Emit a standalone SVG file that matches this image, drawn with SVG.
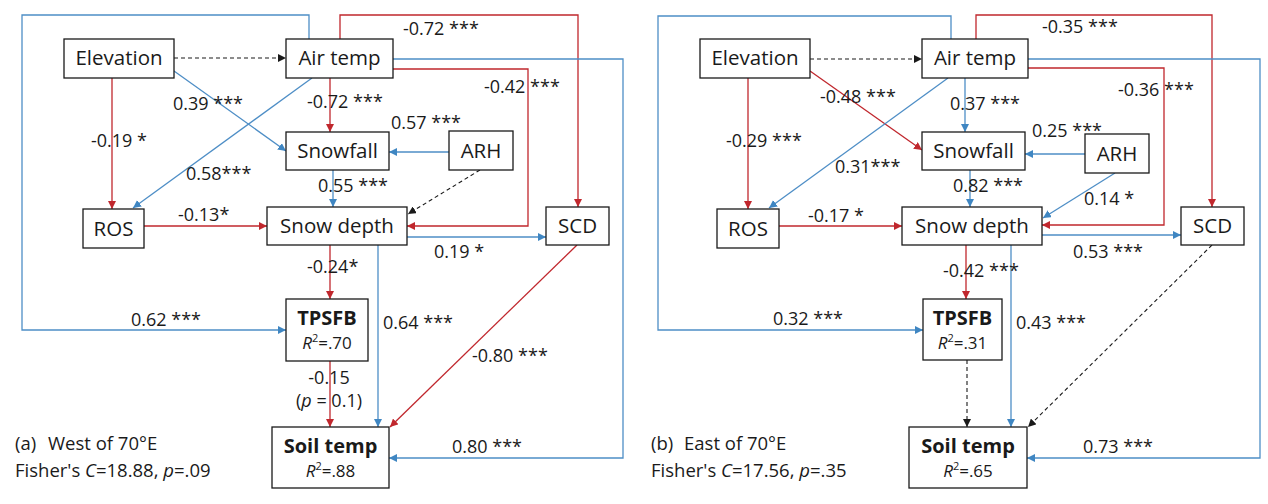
<svg xmlns="http://www.w3.org/2000/svg" width="1268" height="504" viewBox="0 0 1268 504">
<style>
text{font-family:"Open Sans","Liberation Sans",sans-serif;fill:#1a1a1a}
.box{fill:#fff;stroke:#1a1a1a;stroke-width:1.3}
.nm{font-size:20.5px;text-anchor:middle}
.bd{font-size:20px;font-weight:bold;text-anchor:middle}
.r2{font-size:17px;text-anchor:middle}
.lb{font-size:18px}
.lc{font-size:18px;text-anchor:middle}
.cap{font-size:18.5px}
.red{fill:none;stroke:#C0272D;stroke-width:1.3;marker-end:url(#ar)}
.blue{fill:none;stroke:#4E8EC6;stroke-width:1.3;marker-end:url(#ab)}
.dash{fill:none;stroke:#1a1a1a;stroke-width:1.1;stroke-dasharray:4 3;marker-end:url(#ak)}
</style>
<defs>
<marker id="ar" viewBox="0 0 10 10" refX="10" refY="5" markerWidth="8" markerHeight="8" markerUnits="userSpaceOnUse" orient="auto"><path d="M0,0 L10,5 L0,10 z" fill="#C0272D"/></marker>
<marker id="ab" viewBox="0 0 10 10" refX="10" refY="5" markerWidth="8" markerHeight="8" markerUnits="userSpaceOnUse" orient="auto"><path d="M0,0 L10,5 L0,10 z" fill="#3F86C2"/></marker>
<marker id="ak" viewBox="0 0 10 10" refX="10" refY="5" markerWidth="8" markerHeight="8" markerUnits="userSpaceOnUse" orient="auto"><path d="M0,0 L10,5 L0,10 z" fill="#1a1a1a"/></marker>
</defs>
<rect width="1268" height="504" fill="#fff"/>

<g id="connectors">
<path class="blue" d="M309,39 V15 H22 V330 H286"/>
<path class="dash" d="M174,58 H286"/>
<path class="red" d="M112,78 V209"/>
<path class="blue" d="M174,71 L286,151"/>
<path class="blue" d="M312,78 L133,208"/>
<path class="red" d="M330,78 V132"/>
<path class="red" d="M340,39 V15 H578 V207"/>
<path class="red" d="M393,69 H528 V226 H407"/>
<path class="blue" d="M393,59 H623 V458 H389"/>
<path class="blue" d="M449,152 H389"/>
<path class="dash" d="M480,170 L408,214"/>
<path class="blue" d="M333,170 V207"/>
<path class="red" d="M144,226 H267"/>
<path class="blue" d="M407,237 H546"/>
<path class="red" d="M330,245 V299"/>
<path class="blue" d="M378,245 V427"/>
<path class="red" d="M577,245 L390,427"/>
<path class="red" d="M330,361 V427"/>

<path class="blue" d="M951,39 V16 H658 V330 H923"/>
<path class="dash" d="M810,59 H922"/>
<path class="red" d="M748,78 V209"/>
<path class="red" d="M810,71 L922,150"/>
<path class="blue" d="M948,78 L769,208"/>
<path class="blue" d="M965,78 V132"/>
<path class="red" d="M976,39 V15 H1212 V207"/>
<path class="red" d="M1028,68 H1164 V225 H1042"/>
<path class="blue" d="M1028,59 H1260 V458 H1027"/>
<path class="blue" d="M1085,154 H1025"/>
<path class="blue" d="M1115,173 L1043,218"/>
<path class="blue" d="M970,170 V207"/>
<path class="red" d="M779,226 H902"/>
<path class="blue" d="M1042,235 H1181"/>
<path class="red" d="M966,245 V299"/>
<path class="blue" d="M1011,245 V427"/>
<path class="dash" d="M1212,245 L1028,427"/>
<path class="dash" d="M967,360 V427"/>
</g>

<g id="labels">
<text class="lb" x="403" y="35">-0.72 ***</text>
<text class="lb" x="173" y="110">0.39 ***</text>
<text class="lb" x="307" y="108">-0.72 ***</text>
<text class="lb" x="484" y="93">-0.42 ***</text>
<text class="lb" x="91" y="147">-0.19 *</text>
<text class="lb" x="391" y="129">0.57 ***</text>
<text class="lb" x="186" y="180">0.58***</text>
<text class="lb" x="318" y="192">0.55 ***</text>
<text class="lb" x="178" y="221">-0.13*</text>
<text class="lb" x="434" y="258">0.19 *</text>
<text class="lb" x="307" y="273">-0.24*</text>
<text class="lb" x="131" y="326">0.62 ***</text>
<text class="lb" x="383" y="329">0.64 ***</text>
<text class="lb" x="472" y="362">-0.80 ***</text>
<text class="lc" x="329" y="384">-0.15</text>
<text class="lc" x="329" y="407">(<tspan font-style="italic">p</tspan> = 0.1)</text>
<text class="lb" x="452" y="453">0.80 ***</text>

<text class="lb" x="1042" y="33">-0.35 ***</text>
<text class="lb" x="820" y="103">-0.48 ***</text>
<text class="lb" x="950" y="110">0.37 ***</text>
<text class="lb" x="1118" y="96">-0.36 ***</text>
<text class="lb" x="726" y="147">-0.29 ***</text>
<text class="lb" x="1032" y="137">0.25 ***</text>
<text class="lb" x="835" y="173">0.31***</text>
<text class="lb" x="953" y="192">0.82 ***</text>
<text class="lb" x="1084" y="205">0.14 *</text>
<text class="lb" x="808" y="222">-0.17 *</text>
<text class="lb" x="1073" y="258">0.53 ***</text>
<text class="lb" x="943" y="277">-0.42 ***</text>
<text class="lb" x="773" y="325">0.32 ***</text>
<text class="lb" x="1016" y="329">0.43 ***</text>
<text class="lb" x="1083" y="453">0.73 ***</text>

<text class="cap" x="15" y="450">(a)<tspan x="48">West of 70°E</tspan></text>
<text class="cap" x="15" y="477">Fisher's <tspan font-style="italic">C</tspan>=18.88, <tspan font-style="italic">p</tspan>=.09</text>
<text class="cap" x="651" y="450">(b)<tspan x="684">East of 70°E</tspan></text>
<text class="cap" x="651" y="477">Fisher's <tspan font-style="italic">C</tspan>=17.56, <tspan font-style="italic">p</tspan>=.35</text>
</g>

<g id="a-elevation"><rect class="box" x="64" y="39" width="110" height="39"/><text class="nm" x="119" y="65">Elevation</text></g>
<g id="a-airtemp"><rect class="box" x="286" y="39" width="107" height="39"/><text class="nm" x="339.5" y="65">Air temp</text></g>
<g id="a-snowfall"><rect class="box" x="286" y="132" width="103" height="38"/><text class="nm" x="337.5" y="158">Snowfall</text></g>
<g id="a-arh"><rect class="box" x="449" y="131" width="64" height="39"/><text class="nm" x="481" y="158">ARH</text></g>
<g id="a-ros"><rect class="box" x="83" y="209" width="61" height="39"/><text class="nm" x="113.5" y="236">ROS</text></g>
<g id="a-snowdepth"><rect class="box" x="267" y="207" width="140" height="38"/><text class="nm" x="337" y="233">Snow depth</text></g>
<g id="a-scd"><rect class="box" x="546" y="207" width="63" height="38"/><text class="nm" x="577.5" y="233">SCD</text></g>
<g id="a-tpsfb"><rect class="box" x="286" y="299" width="82" height="62"/><text class="bd" x="327" y="325">TPSFB</text><text class="r2" x="327" y="349"><tspan font-style="italic">R</tspan><tspan font-size="11" dy="-7">2</tspan><tspan dy="7">=.70</tspan></text></g>
<g id="a-soiltemp"><rect class="box" x="272" y="427" width="117" height="61"/><text class="bd" x="330.5" y="453">Soil temp</text><text class="r2" x="330.5" y="477"><tspan font-style="italic">R</tspan><tspan font-size="11" dy="-7">2</tspan><tspan dy="7">=.88</tspan></text></g>

<g id="b-elevation"><rect class="box" x="700" y="39" width="110" height="39"/><text class="nm" x="755" y="65">Elevation</text></g>
<g id="b-airtemp"><rect class="box" x="922" y="39" width="106" height="39"/><text class="nm" x="975" y="65">Air temp</text></g>
<g id="b-snowfall"><rect class="box" x="922" y="132" width="103" height="38"/><text class="nm" x="973.5" y="158">Snowfall</text></g>
<g id="b-arh"><rect class="box" x="1085" y="134" width="64" height="39"/><text class="nm" x="1117" y="161">ARH</text></g>
<g id="b-ros"><rect class="box" x="717" y="209" width="62" height="39"/><text class="nm" x="748" y="236">ROS</text></g>
<g id="b-snowdepth"><rect class="box" x="902" y="207" width="140" height="38"/><text class="nm" x="972" y="233">Snow depth</text></g>
<g id="b-scd"><rect class="box" x="1181" y="207" width="63" height="38"/><text class="nm" x="1212.5" y="233">SCD</text></g>
<g id="b-tpsfb"><rect class="box" x="923" y="299" width="79" height="61"/><text class="bd" x="962.5" y="325">TPSFB</text><text class="r2" x="962.5" y="349"><tspan font-style="italic">R</tspan><tspan font-size="11" dy="-7">2</tspan><tspan dy="7">=.31</tspan></text></g>
<g id="b-soiltemp"><rect class="box" x="909" y="427" width="118" height="61"/><text class="bd" x="968" y="453">Soil temp</text><text class="r2" x="968" y="477"><tspan font-style="italic">R</tspan><tspan font-size="11" dy="-7">2</tspan><tspan dy="7">=.65</tspan></text></g>
</svg>
